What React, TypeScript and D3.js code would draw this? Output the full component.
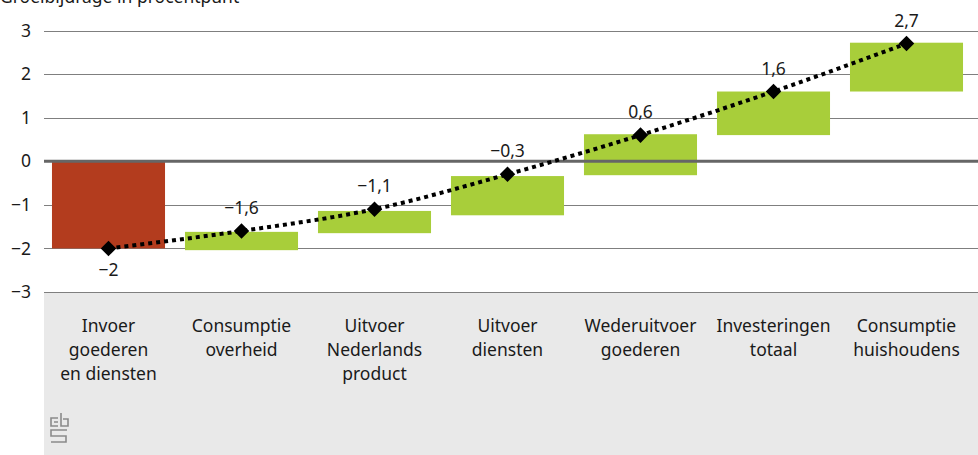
import React from "react";
import * as d3 from "d3";

const categories = [
  ["Invoer", "goederen", "en diensten"],
  ["Consumptie", "overheid"],
  ["Uitvoer", "Nederlands", "product"],
  ["Uitvoer", "diensten"],
  ["Wederuitvoer", "goederen"],
  ["Investeringen", "totaal"],
  ["Consumptie", "huishoudens"],
];
const barStart = [0, -2.04, -1.65, -1.24, -0.32, 0.6, 1.6];
const barEnd = [-2, -1.62, -1.14, -0.34, 0.62, 1.6, 2.72];
const cumulative = [-2, -1.6, -1.1, -0.3, 0.6, 1.6, 2.7];
const cumulativeLabels = ["−2", "−1,6", "−1,1", "−0,3", "0,6", "1,6", "2,7"];
const yTicks = [3, 2, 1, 0, -1, -2, -3];
const yTickLabels = ["3", "2", "1", "0", "−1", "−2", "−3"];
const title = "Groeibijdrage in procentpunt";

const W = 978;
const H = 455;
const FONT = "'Noto Sans', 'DejaVu Sans', sans-serif";
const FS = 17.5;

export default function App() {
  const x = d3
    .scaleBand<number>()
    .domain(d3.range(categories.length))
    .range([42, 973])
    .paddingInner(0.15)
    .paddingOuter(0.075);
  const y = d3.scaleLinear().domain([-3, 3]).range([292, 30.5]);
  const cx = (i: number) => (x(i) as number) + x.bandwidth() / 2;

  const line = d3
    .line<number>()
    .x((_, i) => cx(i))
    .y((d) => y(d))
    .curve(d3.curveMonotoneX);

  return (
    <svg
      width={W}
      height={H}
      style={{ position: "absolute", left: 0, top: 0, display: "block" }}
      fontFamily={FONT}
    >
      <rect x={0} y={0} width={W} height={H} fill="#fff" />
      <rect x={44} y={y(-3)} width={W - 44} height={H - y(-3)} fill="#e9e9e9" />
      <text x={0} y={3} fontSize={FS} fill="#1a1a1a">
        {title}
      </text>
      {yTicks.map((t, i) => (
        <g key={t}>
          {t !== 0 && (
            <line
              x1={44}
              x2={W}
              y1={Math.round(y(t)) + 0.5}
              y2={Math.round(y(t)) + 0.5}
              stroke="#7f7f7f"
              strokeWidth={1}
            />
          )}
          <text
            x={31}
            y={y(t)}
            dy="0.35em"
            textAnchor="end"
            fontSize={FS}
            fill="#1a1a1a"
          >
            {yTickLabels[i]}
          </text>
        </g>
      ))}
      {barStart.map((s, i) => {
        const e = barEnd[i];
        return (
          <rect
            key={i}
            x={x(i)}
            width={x.bandwidth()}
            y={y(Math.max(s, e))}
            height={Math.abs(y(s) - y(e))}
            fill={i === 0 ? "#b33c1e" : "#a8ce3a"}
          />
        );
      })}
      <line x1={44} x2={W} y1={y(0)} y2={y(0)} stroke="#666" strokeWidth={3} />
      <path
        d={line(cumulative) || ""}
        fill="none"
        stroke="#000"
        strokeWidth={4}
        strokeDasharray="4 4"
      />
      {cumulative.map((v, i) => (
        <g key={i}>
          <rect
            x={-5.5}
            y={-5.5}
            width={11}
            height={11}
            fill="#000"
            transform={`translate(${cx(i)},${y(v)}) rotate(45)`}
          />
          <text
            x={cx(i)}
            y={i === 0 ? y(v) + 28 : y(v) - 17}
            textAnchor="middle"
            fontSize={FS}
            fill="#1a1a1a"
          >
            {cumulativeLabels[i]}
          </text>
        </g>
      ))}
      {categories.map((lines, i) => (
        <text
          key={i}
          x={cx(i)}
          y={332}
          textAnchor="middle"
          fontSize={FS}
          fill="#1a1a1a"
        >
          {lines.map((l, j) => (
            <tspan key={j} x={cx(i)} dy={j === 0 ? 0 : 24}>
              {l}
            </tspan>
          ))}
        </text>
      ))}
      <g fill="none" stroke="#8a8a8a" strokeWidth={1.6}>
        <path d="M58,418 h-7 v8 h7 M58,422 h-4" />
        <path d="M61,413 v13 h7 v-7 h-5" />
        <path d="M67,430 h-16 v6 h15 v6 h-15" />
      </g>
    </svg>
  );
}
